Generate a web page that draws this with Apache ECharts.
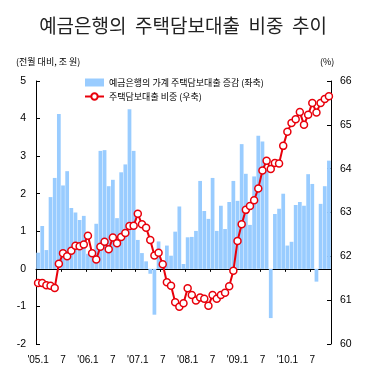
<!DOCTYPE html>
<html><head><meta charset="utf-8">
<script src="https://cdn.jsdelivr.net/npm/echarts@6/dist/echarts.min.js"></script>
<style>html,body{margin:0;padding:0;background:#fff}#c{width:366px;height:381px}</style>
</head><body><div id="c"></div>
<script>
// Month categories 2005.1 – 2010.11
const years = ['05', '06', '07', '08', '09', '10'];
const monthCount = 71;
const categories = [];
for (let k = 0; k < monthCount; k++) {
  const y = years[Math.floor(k / 12)];
  const m = k % 12 + 1;
  categories.push(m === 1 ? "'" + y + '.1' : String(m));
}

const barName = '예금은행의 가계 주택담보대출 증감 (좌축)';
const lineName = '주택담보대출 비중 (우축)';

// 예금은행의 가계 주택담보대출 증감 (조 원, 좌축)
const loanChange = [
  0.43, 1.14, 0.50, 1.91, 2.42, 4.12, 2.22, 2.60, 1.62, 1.50, 1.30, 1.41,
  0.40, 0.35, 1.20, 3.14, 3.16, 2.20, 2.37, 1.35, 2.57, 2.78, 4.25, 3.14,
  0.77, 0.42, 0.20, -0.13, -1.22, 0.73, 0.15, 0.62, 0.35, 0.99, 1.66, 0.13,
  0.84, 0.85, 1.01, 2.34, 1.54, 1.33, 2.42, 1.01, 1.68, 1.06, 1.78, 2.34,
  1.81, 3.32, 2.53, 1.17, 2.46, 3.54, 3.39, 2.63, -1.31, 1.46, 1.60, 2.00,
  0.62, 0.72, 1.70, 1.78, 1.68, 2.52, 2.26, -0.34, 1.73, 2.20, 2.88
];

// 주택담보대출 비중 (%, 우축)
const loanShare = [
  61.39, 61.39, 61.34, 61.33, 61.28, 61.83, 62.07, 62.00, 62.13, 62.24, 62.23, 62.27,
  62.47, 62.07, 61.93, 62.22, 62.33, 62.16, 62.43, 62.30, 62.44, 62.53, 62.69, 62.70,
  62.97, 62.73, 62.65, 62.37, 62.02, 62.08, 61.82, 61.41, 61.33, 60.95, 60.85, 60.93,
  61.27, 61.12, 60.99, 61.06, 61.03, 60.87, 61.12, 61.03, 61.12, 61.17, 61.32, 61.67,
  62.35, 62.73, 63.06, 63.15, 63.28, 63.55, 63.96, 64.18, 63.99, 64.13, 64.12, 64.52,
  64.84, 65.04, 65.13, 65.29, 65.00, 65.23, 65.50, 65.28, 65.50, 65.59, 65.65
];

const leftRange = [-2, 5];
const rightRange = [60, 66];

const barColor = '#99ccff';
const lineColor = '#e8000b';
const numFont = 'Liberation Sans';
const krFont = 'Noto Sans CJK KR';

const chart = echarts.init(document.getElementById('c'), null, {renderer: 'canvas'});
chart.setOption({
  animation: false,
  backgroundColor: '#fff',
  title: {
    text: '예금은행의  주택담보대출  비중  추이',
    left: 'center',
    top: 11,
    textStyle: {fontSize: 19, fontWeight: 'normal', fontFamily: krFont, color: '#222'}
  },
  graphic: [
    {type: 'text', left: 16, top: 57, style: {text: '(전월 대비, 조 원)', fontSize: 9, fontFamily: krFont, fill: '#000'}},
    {type: 'text', left: 320, top: 57, style: {text: '(%)', fontSize: 9, fontFamily: krFont, fill: '#000'}}
  ],
  legend: {
    orient: 'vertical',
    left: 79,
    top: 73,
    itemWidth: 19,
    itemHeight: 8,
    itemGap: 5,
    textStyle: {fontSize: 9, fontFamily: krFont, color: '#000'},
    data: [{name: barName, icon: 'rect'}, {name: lineName}]
  },
  grid: {left: 36, right: 35, top: 81, bottom: 37},
  xAxis: [
    {
      type: 'category', data: categories, boundaryGap: true,
      axisLine: {show: true, onZero: true, lineStyle: {color: '#000', width: 1}},
      axisTick: {show: true, interval: 5, length: 3, lineStyle: {color: '#000'}},
      axisLabel: {show: false},
      splitLine: {show: false}
    },
    {
      type: 'category', data: categories, boundaryGap: true, position: 'bottom',
      axisLine: {show: false, onZero: false},
      axisTick: {show: false},
      axisLabel: {interval: 5, color: '#000', fontSize: 10, fontFamily: numFont, margin: 11},
      splitLine: {show: false}
    }
  ],
  yAxis: [
    {
      type: 'value', min: leftRange[0], max: leftRange[1], interval: 1, position: 'left',
      axisLine: {show: true, lineStyle: {color: '#000', width: 1}},
      axisTick: {show: true, inside: true, length: 4, lineStyle: {color: '#000'}},
      axisLabel: {color: '#000', fontSize: 10.5, fontFamily: numFont, margin: 10},
      splitLine: {show: false}
    },
    {
      type: 'value', min: rightRange[0], max: rightRange[1], interval: 1, position: 'right',
      axisLine: {show: true, lineStyle: {color: '#000', width: 1}},
      axisTick: {show: true, inside: true, length: 4, lineStyle: {color: '#000'}},
      axisLabel: {color: '#000', fontSize: 10.5, fontFamily: numFont, margin: 9},
      splitLine: {show: false}
    }
  ],
  series: [
    {
      type: 'bar', name: barName, data: loanChange, xAxisIndex: 0, yAxisIndex: 0,
      barCategoryGap: '10%',
      itemStyle: {color: barColor}
    },
    {
      type: 'line', name: lineName, data: loanShare, xAxisIndex: 0, yAxisIndex: 1,
      symbol: 'circle', symbolSize: 7, showAllSymbol: true,
      lineStyle: {color: lineColor, width: 2},
      itemStyle: {color: '#fff', borderColor: lineColor, borderWidth: 1.5},
      z: 5
    }
  ]
});
</script>
</body></html>
